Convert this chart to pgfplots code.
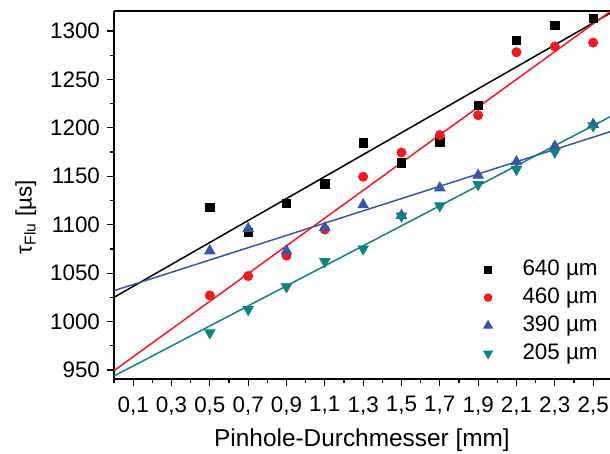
\documentclass[border=0pt]{standalone}
\usepackage{fontspec}
\setmainfont{Liberation Sans}
\usepackage{pgfplots}
\pgfplotsset{compat=1.18}
\definecolor{cred}{RGB}{237,28,36}
\definecolor{cblue}{RGB}{59,85,165}
\definecolor{cteal}{RGB}{18,128,126}
\begin{document}
\begin{tikzpicture}[font=\fontsize{11.2}{13}\selectfont]
\begin{axis}[
  scale only axis,
  width=248pt, height=184pt,
  xmin=0, xmax=2.588, ymin=940.7, ymax=1320.6,
  axis x line*=box, axis y line*=left,
  axis line style={line width=0.75pt},
  tick style={line width=0.6pt, black},
  tick align=outside,
  major tick length=3.5pt, minor tick length=2pt,
  xtick pos=bottom, ytick pos=left,
  xtick={0.1,0.3,0.5,0.7,0.9,1.1,1.3,1.5,1.7,1.9,2.1,2.3,2.5},
  minor xtick={0,0.2,0.4,0.6,0.8,1.0,1.2,1.4,1.6,1.8,2.0,2.2,2.4},
  ytick={950,1000,1050,1100,1150,1200,1250,1300},
  minor ytick={975,1025,1075,1125,1175,1225,1275},
  /pgf/number format/assume math mode=true,
  /pgf/number format/use comma,
  /pgf/number format/1000 sep={},
  xticklabel style={/pgf/number format/fixed, /pgf/number format/fixed zerofill, /pgf/number format/precision=1, yshift=-1.7pt},
  xlabel={Pinhole-Durchmesser [mm]},
  ylabel={τ\textsubscript{Flu} [µs]},
  xlabel style={font=\fontsize{12.2}{14}\selectfont},
  ylabel style={at={(ticklabel cs:0.448)}, xshift=-1.5pt},
  clip=true,
  legend style={draw=none, fill=none, inner sep=0pt, at={(0.98,0.034)}, anchor=south east,
    row sep=1.5pt, column sep=14pt,
    nodes={inner sep=1pt, text height=8pt, text depth=2.5pt}},
  legend cell align=left,
  legend image post style={scale=0.85},
]
\addplot[black, only marks, mark=square*, mark size=2.1pt] coordinates {
 (0.5,1118) (0.7,1092) (0.9,1122) (1.1,1142) (1.3,1184.5) (1.5,1164) (1.7,1185.5) (1.9,1223) (2.1,1290.5) (2.3,1305.5) (2.5,1313)};
\addlegendentry{640 µm}
\addplot[cred, only marks, mark=*, mark size=2.3pt] coordinates {
 (0.5,1027) (0.7,1047) (0.9,1068) (1.1,1095) (1.3,1149.5) (1.5,1174.5) (1.7,1192.5) (1.9,1213) (2.1,1278) (2.3,1284) (2.5,1288)};
\addlegendentry{460 µm}
\addplot[cblue, only marks, mark=triangle*, mark size=3pt] coordinates {
 (0.5,1073) (0.7,1096) (0.9,1073) (1.1,1097) (1.3,1120.5) (1.5,1109.5) (1.7,1138) (1.9,1151) (2.1,1165) (2.3,1181) (2.5,1203.5)};
\addlegendentry{390 µm}
\addplot[cteal, only marks, mark=triangle*, mark options={rotate=180}, mark size=3pt] coordinates {
 (0.5,988.5) (0.7,1012.5) (0.9,1036) (1.1,1062) (1.3,1075) (1.5,1109) (1.7,1119.5) (1.9,1141.5) (2.1,1157) (2.3,1175) (2.5,1202)};
\addlegendentry{205 µm}
\addplot[black, line width=0.75pt, forget plot] coordinates {(0,1025) (2.6,1319.6)};
\addplot[cred, line width=0.75pt, forget plot] coordinates {(0,949.3) (2.6,1321.6)};
\addplot[cblue, line width=0.75pt, forget plot] coordinates {(0,1031.9) (2.6,1196.7)};
\addplot[cteal, line width=0.75pt, forget plot] coordinates {(0,943.8) (2.6,1212.6)};
\end{axis}
\pgfresetboundingbox
\path ([shift={(-57pt,-37pt)}]current axis.south west) rectangle ([shift={(0pt,5.5pt)}]current axis.north east);
\end{tikzpicture}
\end{document}
